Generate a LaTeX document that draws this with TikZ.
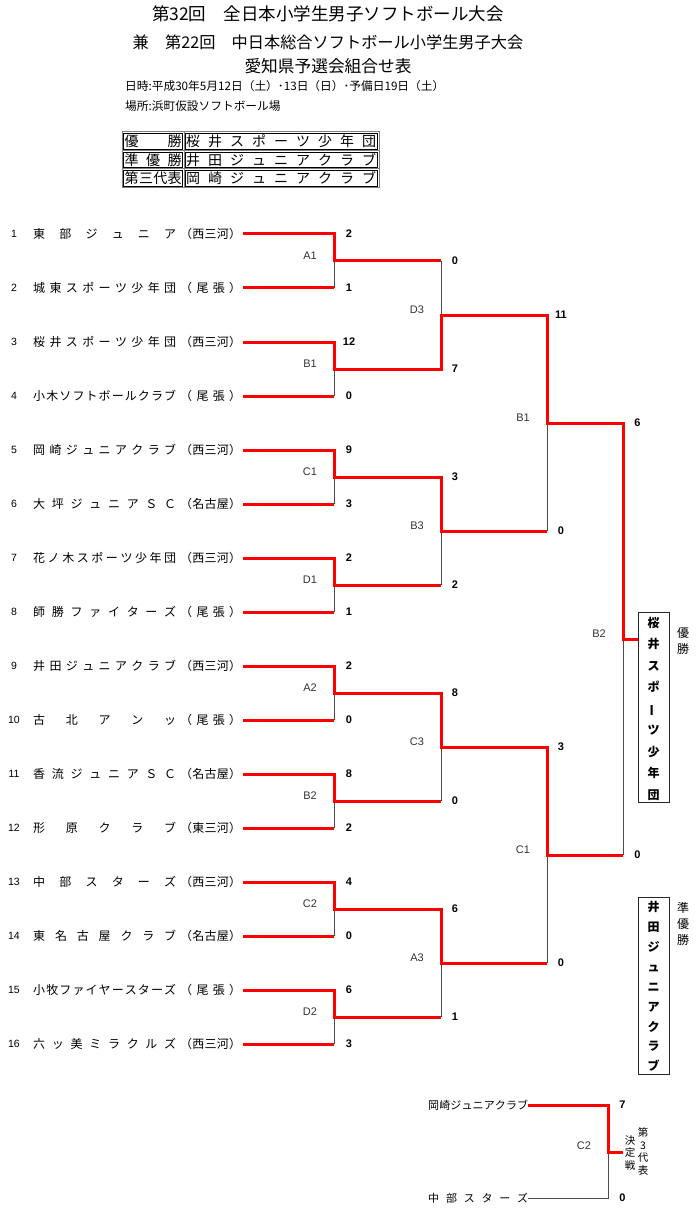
\documentclass[tikz,border=0pt]{standalone}
\usepackage{fontspec}
\usepackage{graphicx}
\setmainfont{Noto Sans CJK JP}
\newfontfamily\lat{Liberation Sans}
\ExplSyntaxOn
\NewDocumentCommand\dist{m m}
 {
  \tl_set:Nx \l_tmpa_tl {#2}
  \seq_clear:N \l_tmpa_seq
  \tl_map_inline:Nn \l_tmpa_tl { \seq_put_right:Nn \l_tmpa_seq {##1} }
  \makebox[#1][s]{\seq_use:Nn \l_tmpa_seq {\hfill}}
 }
\ExplSyntaxOff
\tikzset{
  win/.style={draw=red, line width=3pt, line join=miter},
  loss/.style={draw=black!70, line width=1pt},
  tname/.style={inner sep=0pt, anchor=west, font=\fontsize{12}{14}\selectfont},
  tname3/.style={inner sep=0pt, anchor=west, font=\fontsize{11}{13}\selectfont},
  tnum/.style={inner sep=0pt, font=\lat\fontsize{10.5}{12}\selectfont},
  score/.style={inner sep=0pt, font=\lat\bfseries\fontsize{11}{13}\selectfont},
  mlab/.style={inner sep=0pt, font=\lat\fontsize{11}{13}\selectfont, text=black!80},
  hone/.style={inner sep=0pt, font=\fontsize{17.5}{20}\selectfont},
  htwo/.style={inner sep=0pt, font=\fontsize{16.2}{19}\selectfont},
  hthree/.style={inner sep=0pt, font=\fontsize{16.7}{19}\selectfont},
  info/.style={inner sep=0pt, anchor=west, font=\fontsize{11.7}{13}\selectfont},
  cello/.style={draw=black!50, line width=1pt},
  celli/.style={draw=black, line width=0.6pt},
  tcell/.style={inner sep=0pt, anchor=west, font=\fontsize{14}{16}\selectfont},
  vbox/.style={draw=black!85, line width=0.8pt},
  vtext/.style={inner sep=0pt, align=center, font=\bfseries\fontsize{12}{21.5}\selectfont},
  vtextb/.style={inner sep=0pt, align=center, font=\bfseries\fontsize{12}{19.9}\selectfont},
  vsmall/.style={inner sep=0pt, align=center, font=\fontsize{12}{16}\selectfont},
  vtiny/.style={inner sep=0pt, align=center, font=\fontsize{10.5}{12.8}\selectfont},
}
% #1 id, #2 x in, #3 x of vertical, #4 x out, #5 y winner, #6 y loser, #7 label
\newcommand\bmatch[7]{%
  \pgfmathsetmacro\ym{(#5+#6)/2}%
  \coordinate (#1-w0) at (#2,#5);
  \coordinate (#1-w1) at (#3,#5);
  \coordinate (#1-m) at (#3,\ym);
  \coordinate (#1-o) at (#4,\ym);
  \coordinate (#1-l) at (#3,#6);
  \draw[loss] (#1-m) -- (#1-l);
  \draw[win] (#1-w0) -- (#1-w1) -- (#1-m) -- (#1-o);
  \node[mlab, xshift=-24pt, yshift=5pt] (#1-lab) at (#1-m) {#7};
}
\begin{document}
\begin{tikzpicture}[x=1pt,y=-1pt]
\useasboundingbox (0,0) rectangle (700,1230);
% titles
\node[hone] (h1) at (328,14) {第32回　全日本小学生男子ソフトボール大会};
\node[htwo] (h2) at (328,42) {兼　第22回　中日本総合ソフトボール小学生男子大会};
\node[hthree] (h3) at (328,66) {愛知県予選会組合せ表};
\node[info] (h4) at (125,86) {日時:平成30年5月12日（土）･13日（日）･予備日19日（土）};
\node[info] (h5) at (125,106) {場所:浜町仮設ソフトボール場};
% result table
\foreach \lab/\val/\yt/\yb [count=\i] in {優勝/桜井スポーツ少年団/131.5/150.5, 準優勝/井田ジュニアクラブ/150.5/169, 第三代表/岡崎ジュニアクラブ/169/187.5} {
  \draw[cello] (122,\yt) rectangle (184,\yb);
  \draw[cello] (184,\yt) rectangle (379,\yb);
  \draw[celli] (123.6,{\yt+1.6}) rectangle (182.4,{\yb-1.6});
  \draw[celli] (185.6,{\yt+1.6}) rectangle (377.4,{\yb-1.6});
  \node[tcell] (k\i) at (124.5,{(\yt+\yb)/2}) {\dist{57pt}{\lab}};
  \node[tcell] (v\i) at (186,{(\yt+\yb)/2}) {\dist{190pt}{\val}};
}
% teams
\foreach \nm/\rg [count=\i] in {東部ジュニア/西三河, 城東スポーツ少年団/尾張, 桜井スポーツ少年団/西三河, 小木ソフトボールクラブ/尾張, 岡崎ジュニアクラブ/西三河, 大坪ジュニアＳＣ/名古屋, 花ノ木スポーツ少年団/西三河, 師勝ファイターズ/尾張, 井田ジュニアクラブ/西三河, 古北アンッ/尾張, 香流ジュニアＳＣ/名古屋, 形原クラブ/東三河, 中部スターズ/西三河, 東名古屋クラブ/名古屋, 小牧ファイヤースターズ/尾張, 六ッ美ミラクルズ/西三河} {
  \pgfmathsetmacro\yy{234+54*(\i-1)}
  \node[tnum] (no\i) at (14,\yy) {\i};
  \node[tname] (n\i) at (33,\yy) {\dist{143pt}{\nm}};
  \node[tname] (r\i) at (180,\yy) {\dist{61pt}{（\rg）}};
  \coordinate (ta\i) at (243,\yy);
  \coordinate (tb\i) at (334,\yy);
  \draw[win] (ta\i) -- (tb\i);
}
% round 1
\foreach \lab [count=\j] in {A1,B1,C1,D1,A2,B2,C2,D2} {
  \pgfmathsetmacro\yw{234+108*(\j-1)}
  \pgfmathsetmacro\yl{\yw+54}
  \bmatch{p\j}{243}{334}{441}{\yw}{\yl}{\lab}
}
% round 2
\bmatch{q1}{334}{441}{547}{369}{261}{D3}
\bmatch{q2}{334}{441}{547}{477}{585}{B3}
\bmatch{q3}{334}{441}{547}{693}{801}{C3}
\bmatch{q4}{334}{441}{547}{909}{1017}{A3}
% round 3
\bmatch{u1}{441}{547}{623}{315}{531}{B1}
\bmatch{u2}{441}{547}{623}{747}{963}{C1}
% final
\bmatch{f}{547}{623}{638}{423}{855}{B2}
% scores
\foreach \s [count=\i] in {2,1,12,0,9,3,2,1,2,0,8,2,4,0,6,3} {
  \pgfmathsetmacro\yy{234+54*(\i-1)}
  \node[score] (sa\i) at (349,\yy) {\s};
}
\foreach \s [count=\i] in {0,7,3,2,8,0,6,1} {
  \pgfmathsetmacro\yy{261+108*(\i-1)}
  \node[score] (sb\i) at (455,\yy) {\s};
}
\foreach \s [count=\i] in {11,0,3,0} {
  \pgfmathsetmacro\yy{315+216*(\i-1)}
  \node[score] (sc\i) at (561,\yy) {\s};
}
\node[score] (sd1) at (637.5,423) {6};
\node[score] (sd2) at (637.5,855) {0};
% winner and runner-up boxes
\draw[vbox] (638,612) rectangle (669,802);
\node[vtext] (champ) at (653.5,708.5) {桜\\井\\ス\\ポ\\\rotatebox[origin=c]{90}{ー}\\ツ\\少\\年\\団};
\node[vsmall] (champlab) at (683,640.5) {優\\勝};
\draw[vbox] (638,897) rectangle (669,1074);
\node[vtextb] (runner) at (653.5,986.5) {井\\田\\ジ\\ュ\\ニ\\ア\\ク\\ラ\\ブ};
\node[vsmall] (runnerlab) at (683,924) {準\\優\\勝};
% third place decision
\node[tname3] (c1) at (428,1105) {\dist{100pt}{岡崎ジュニアクラブ}};
\node[tname3] (c2) at (428,1198) {\dist{100pt}{中部スターズ}};
\coordinate (c1e) at (528,1105);
\coordinate (cv1) at (608,1105);
\coordinate (cm) at (608,1152);
\coordinate (co) at (623,1152);
\coordinate (cv2) at (608,1198);
\coordinate (c2e) at (528,1198);
\draw[loss] (cm) -- (cv2) -- (c2e);
\draw[win] (c1e) -- (cv1) -- (cm) -- (co);
\node[mlab] (c2lab) at (584,1146) {C2};
\node[score] (se1) at (622.5,1105) {7};
\node[score] (se2) at (622.5,1198) {0};
\node[vtiny] (kettei) at (630,1153) {決\\定\\戦};
\node[vtiny] (dai3) at (643,1151.5) {第\\3\\代\\表};
\end{tikzpicture}
\end{document}
